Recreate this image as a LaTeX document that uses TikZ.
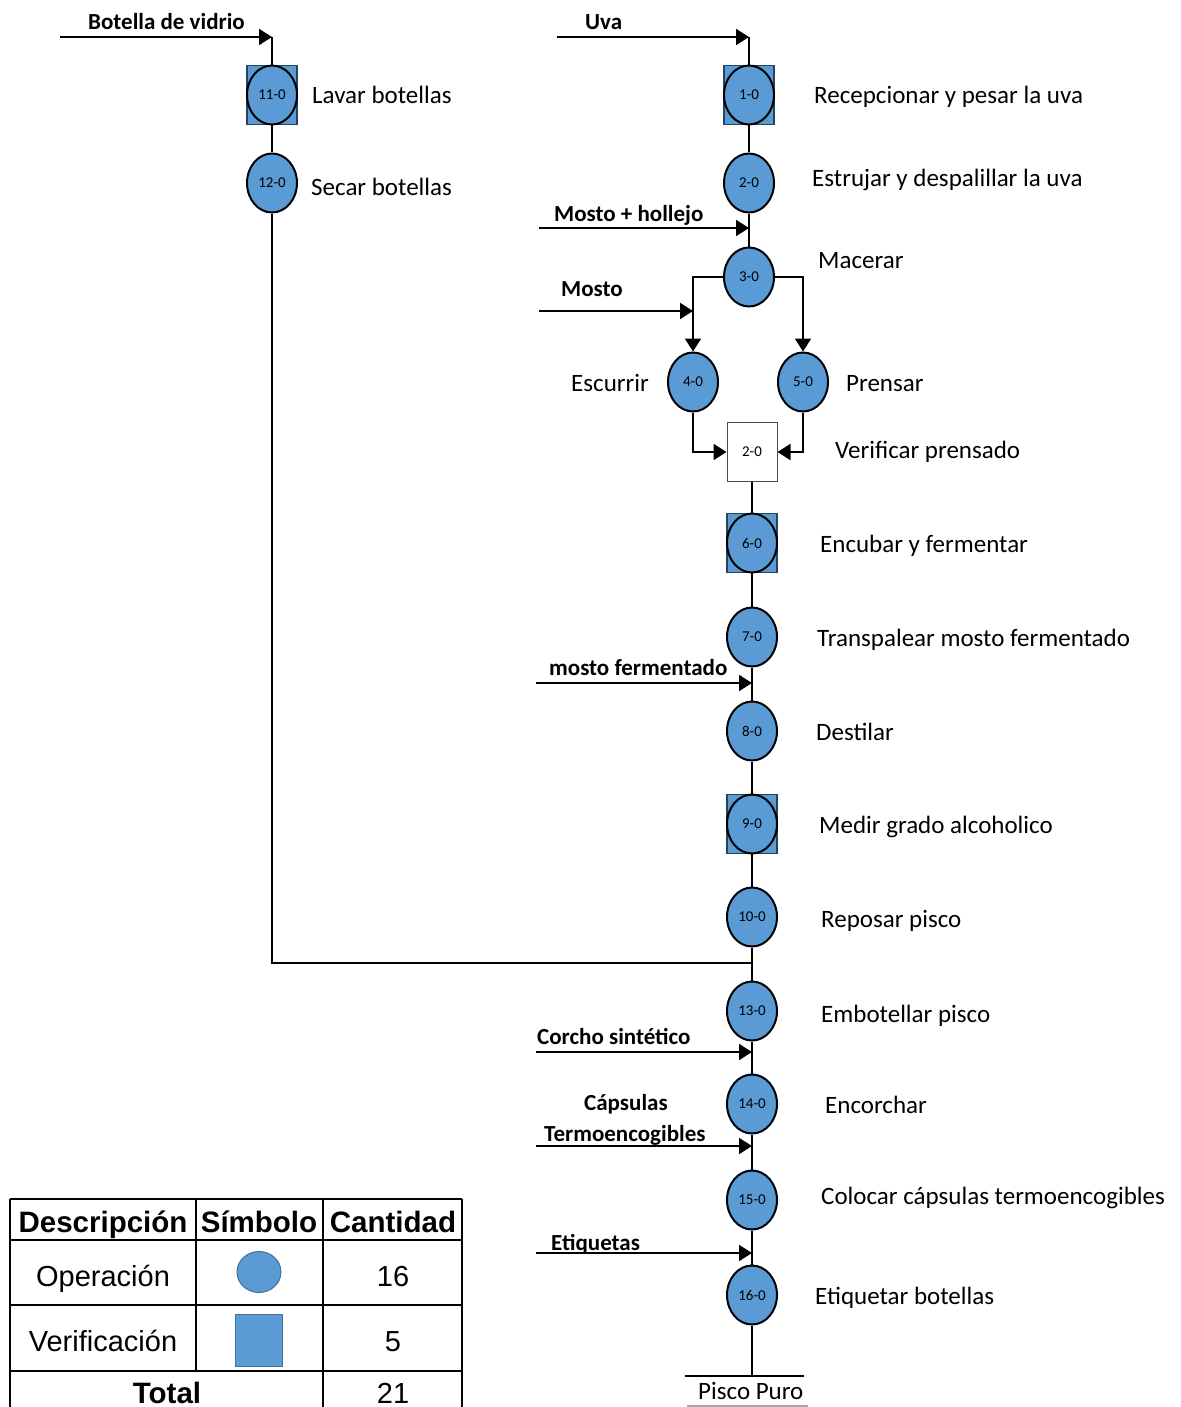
\documentclass[tikz,border=0pt]{standalone}
\usepackage{fontspec}
\setmainfont{Carlito}
\newfontfamily\tabfont{Liberation Sans}
\usetikzlibrary{arrows.meta,shapes.geometric}
\definecolor{opblue}{HTML}{5B9BD5}
\definecolor{edgeblue}{HTML}{41719C}
\begin{document}
\begin{tikzpicture}[x=1pt,y=-1pt,
  ln/.style={draw=black,line width=2pt},
  flow/.style={draw=black,line width=2pt,-{Triangle[length=13pt,width=16pt]}},
  op/.style={ellipse,draw=black,line width=2pt,fill=opblue,minimum width=50pt,
    minimum height=59pt,inner sep=0pt,font=\fontsize{15}{15}\selectfont},
  insp/.style={rectangle,draw=edgeblue!60!black,line width=1.5pt,fill=opblue,
    minimum width=50pt,minimum height=59pt,inner sep=0pt},
  chk/.style={rectangle,draw=black!70,line width=1pt,fill=white,
    minimum width=50pt,minimum height=59pt,inner sep=0pt,font=\fontsize{15}{15}\selectfont},
  lbl/.style={anchor=base west,inner sep=0pt,font=\fontsize{25}{30}\selectfont},
  inlbl/.style={anchor=base west,inner sep=0pt,font=\bfseries\fontsize{23}{28}\selectfont},
  th/.style={anchor=base,inner sep=0pt,font=\tabfont\bfseries\fontsize{29.5}{34}\selectfont},
  td/.style={anchor=base,inner sep=0pt,font=\tabfont\fontsize{29}{34}\selectfont},
  tline/.style={draw=black,line width=2.5pt}]
\useasboundingbox (0,0) rectangle (1180,1407);

% ---------- bottle line ----------
\coordinate (bvS) at (60,37);
\coordinate (bvE) at (272,37);
\node[inlbl] (bvL) at (88,30) {Botella de vidrio};
\node[insp] (s11) at (272,95) {};
\node[op] (o11) at (272,95) {11-0};
\node[lbl] (t11) at (312,104) {Lavar botellas};
\node[op] (o12) at (272,183) {12-0};
\node[lbl] (t12) at (311,196) {Secar botellas};
\coordinate (j1) at (272,963);
\coordinate (j2) at (752,963);

% ---------- grape line ----------
\coordinate (uvS) at (557,37);
\coordinate (uvE) at (749,37);
\node[inlbl] (uvL) at (585,30) {Uva};
\node[insp] (s1) at (749,95) {};
\node[op] (o1) at (749,95) {1-0};
\node[lbl] (t1) at (814,104) {Recepcionar y pesar la uva};
\node[op] (o2) at (749,183) {2-0};
\node[lbl] (t2) at (812,186) {Estrujar y despalillar la uva};
\coordinate (mhS) at (539,228);
\coordinate (mhE) at (749,228);
\node[inlbl] (mhL) at (554,221) {Mosto + hollejo};
\node[op] (o3) at (749,277) {3-0};
\node[lbl] (t3) at (818,268) {Macerar};
\coordinate (msS) at (539,311);
\coordinate (msE) at (693,311);
\node[inlbl] (msL) at (561,296) {Mosto};
\node[op] (o4) at (693,382) {4-0};
\node[lbl] (t4) at (571,391) {Escurrir};
\node[op] (o5) at (803,382) {5-0};
\node[lbl] (t5) at (846,391) {Prensar};
\node[chk] (v2) at (752,452) {2-0};
\node[lbl] (tv2) at (835,458) {Verificar prensado};
\node[insp] (s6) at (752,543) {};
\node[op] (o6) at (752,543) {6-0};
\node[lbl] (t6) at (820,552) {Encubar y fermentar};
\node[op] (o7) at (752,637) {7-0};
\node[lbl] (t7) at (817,646) {Transpalear mosto fermentado};
\coordinate (mfS) at (536,683);
\coordinate (mfE) at (752,683);
\node[inlbl] (mfL) at (549,675) {mosto fermentado};
\node[op] (o8) at (752,731) {8-0};
\node[lbl] (t8) at (816,740) {Destilar};
\node[insp] (s9) at (752,824) {};
\node[op] (o9) at (752,824) {9-0};
\node[lbl] (t9) at (819,833) {Medir grado alcoholico};
\node[op] (o10) at (752,917) {10-0};
\node[lbl] (t10) at (821,927) {Reposar pisco};
\node[op] (o13) at (752,1011) {13-0};
\node[lbl] (t13) at (821,1022) {Embotellar pisco};
\coordinate (csS) at (536,1052);
\coordinate (csE) at (752,1052);
\node[inlbl] (csL) at (537,1044) {Corcho sintético};
\node[op] (o14) at (752,1104) {14-0};
\node[lbl] (t14) at (825,1113) {Encorchar};
\coordinate (ctS) at (536,1146);
\coordinate (ctE) at (752,1146);
\node[inlbl] (ctL1) at (584,1110) {Cápsulas};
\node[inlbl] (ctL2) at (544,1141) {Termoencogibles};
\node[op] (o15) at (752,1200) {15-0};
\node[lbl] (t15) at (821,1204) {Colocar cápsulas termoencogibles};
\coordinate (etS) at (536,1253);
\coordinate (etE) at (752,1253);
\node[inlbl] (etL) at (551,1250) {Etiquetas};
\node[op] (o16) at (752,1295) {16-0};
\node[lbl] (t16) at (815,1304) {Etiquetar botellas};
\coordinate (pend) at (752,1376);
\coordinate (pl) at (685,1376);
\coordinate (pr) at (804,1376);
\coordinate (gl) at (687,1406);
\coordinate (gr) at (808,1406);
\node[lbl] (pp) at (698,1399) {Pisco Puro};

% ---------- connectors ----------
\draw[flow] (bvS) -- (bvE);
\draw[ln] (bvE) -- (s11.north);
\draw[ln] (s11.south) -- (o12.north);
\draw[ln] (o12.south) -- (j1) -- (j2);

\draw[flow] (uvS) -- (uvE);
\draw[ln] (uvE) -- (s1.north);
\draw[ln] (s1.south) -- (o2.north);
\draw[ln] (o2.south) -- (o3.north);
\draw[flow] (mhS) -- (mhE);
\draw[flow] (o3.west) -| (o4.north);
\draw[flow] (o3.east) -| (o5.north);
\draw[flow] (msS) -- (msE);
\draw[flow] (o4.south) |- (v2.west);
\draw[flow] (o5.south) |- (v2.east);
\draw[ln] (v2.south) -- (s6.north);
\draw[ln] (s6.south) -- (o7.north);
\draw[ln] (o7.south) -- (o8.north);
\draw[flow] (mfS) -- (mfE);
\draw[ln] (o8.south) -- (s9.north);
\draw[ln] (s9.south) -- (o10.north);
\draw[ln] (o10.south) -- (o13.north);
\draw[ln] (o13.south) -- (o14.north);
\draw[flow] (csS) -- (csE);
\draw[ln] (o14.south) -- (o15.north);
\draw[flow] (ctS) -- (ctE);
\draw[ln] (o15.south) -- (o16.north);
\draw[flow] (etS) -- (etE);
\draw[ln] (o16.south) -- (pend);
\draw[draw=black,line width=2.5pt] (pl) -- (pr);
\draw[draw=black!35,line width=2pt] (gl) -- (gr);

% ---------- summary table ----------
\draw[tline] (10,1199) -- (462,1199);
\draw[tline] (10,1240) -- (462,1240);
\draw[tline] (10,1305) -- (462,1305);
\draw[tline] (10,1371) -- (462,1371);
\draw[tline] (10,1199) -- (10,1407);
\draw[tline] (196,1199) -- (196,1371);
\draw[tline] (323,1199) -- (323,1407);
\draw[tline] (462,1199) -- (462,1407);
\node[th] (hD) at (103,1232) {Descripción};
\node[th] (hS) at (259,1232) {Símbolo};
\node[th] (hC) at (393,1232) {Cantidad};
\node[td] (rO) at (103,1286) {Operación};
\node[ellipse,draw=edgeblue,line width=1pt,fill=opblue,minimum width=44pt,
  minimum height=41pt,inner sep=0pt] (symO) at (259,1272) {};
\node[td] (nO) at (393,1286) {16};
\node[td] (rV) at (103,1351) {Verificación};
\node[rectangle,draw=edgeblue,line width=1pt,fill=opblue,minimum width=47pt,
  minimum height=52pt,inner sep=0pt] (symV) at (259,1340) {};
\node[td] (nV) at (393,1351) {5};
\node[th] (tT) at (167,1403) {Total};
\node[td] (nT) at (393,1403) {21};
\end{tikzpicture}
\end{document}
